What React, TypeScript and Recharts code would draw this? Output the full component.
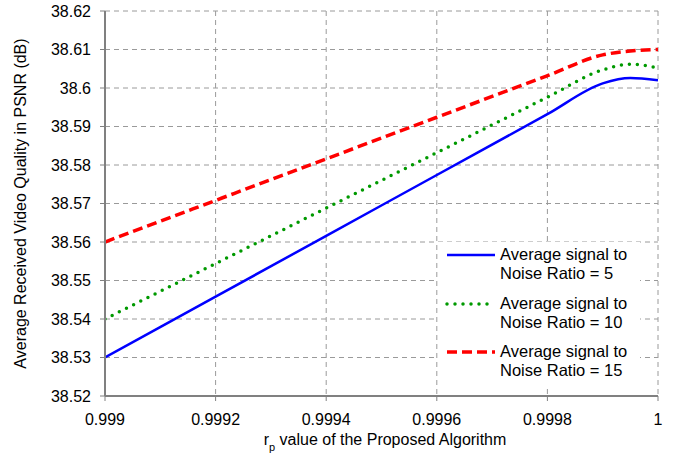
import React from "react";
import { LineChart, Line, XAxis, YAxis, CartesianGrid } from "recharts";

const rpValues = [0.999, 0.9992, 0.9994, 0.9996, 0.9998, 0.9999, 0.99995, 1];
const snr5 = [38.53, 38.5458, 38.5616, 38.5774, 38.5932, 38.6012, 38.6026, 38.602];
const snr10 = [38.54, 38.5544, 38.5688, 38.5832, 38.5976, 38.6047, 38.6062, 38.6052];
const snr15 = [38.56, 38.5708, 38.5816, 38.5924, 38.6032, 38.6086, 38.6096, 38.61];

const xTicks = [0.999, 0.9992, 0.9994, 0.9996, 0.9998, 1];
const xTickLabels = ["0.999", "0.9992", "0.9994", "0.9996", "0.9998", "1"];
const yTicks = [38.52, 38.53, 38.54, 38.55, 38.56, 38.57, 38.58, 38.59, 38.6, 38.61, 38.62];
const yTickLabels = ["38.52", "38.53", "38.54", "38.55", "38.56", "38.57", "38.58", "38.59", "38.6", "38.61", "38.62"];

const seriesNames = [
  ["Average signal to", "Noise Ratio = 5"],
  ["Average signal to", "Noise Ratio = 10"],
  ["Average signal to", "Noise Ratio = 15"],
];

const data = rpValues.map((rp, i) => ({
  rp,
  s5: snr5[i],
  s10: snr10[i],
  s15: snr15[i],
}));

const FONT = "'Liberation Sans', Arial, sans-serif";
const FS = 16;

const styles = [
  { stroke: "#0000ff", dash: undefined, width: 2.5, cap: "butt" },
  { stroke: "#009900", dash: "0 8", width: 3.5, cap: "round" },
  { stroke: "#ff0000", dash: "10 5", width: 3.5, cap: "butt" },
];

// legend drawn as an overlay box inside the plot, like the original
const LegendBox = () => (
  <div
    style={{
      position: "absolute",
      left: 438,
      top: 242,
      width: 202,
      height: 145,
      background: "#fff",
      fontFamily: FONT,
      fontSize: 16.5,
      color: "#000",
    }}
  >
    {styles.map((s, i) => (
      <div key={i} style={{ position: "absolute", left: 0, top: 3 + i * 48.5 }}>
        <svg width={60} height={20} style={{ position: "absolute", left: 0, top: 0 }}>
          <line
            x1={9}
            x2={57}
            y1={10}
            y2={10}
            stroke={s.stroke}
            strokeWidth={s.width}
            strokeDasharray={s.dash}
            strokeLinecap={s.cap as any}
          />
        </svg>
        <div
          style={{
            position: "absolute",
            left: 62,
            top: 0,
            lineHeight: "19px",
            whiteSpace: "nowrap",
          }}
        >
          {seriesNames[i][0]}
          <br />
          {seriesNames[i][1]}
        </div>
      </div>
    ))}
  </div>
);

const XLabel = () => (
  <text x={385} y={445} textAnchor="middle" fontFamily={FONT} fontSize={FS} fill="#000">
    r<tspan baselineShift="sub" fontSize={11}>p</tspan>
    <tspan> value of the Proposed Algorithm</tspan>
  </text>
);

export default function App() {
  return (
    <div style={{ position: "absolute", left: 0, top: 0, width: 673, height: 455, background: "#fff" }}>
      <LineChart
        width={673}
        height={455}
        data={data}
        margin={{ top: 11, right: 15, bottom: 0, left: 0 }}
      >
        <CartesianGrid
          xAxisId="b"
          yAxisId="l"
          stroke="#9a9a9a"
          strokeDasharray="5 4"
        />
        <XAxis
          xAxisId="b"
          dataKey="rp"
          type="number"
          domain={[0.999, 1]}
          ticks={xTicks}
          tickFormatter={(v, i) => xTickLabels[i]}
          height={59}
          axisLine={{ stroke: "#808080", strokeWidth: 2 }}
          tickLine={{ stroke: "#808080" }}
          tickSize={5}
          tick={{ fill: "#000", fontSize: FS, fontFamily: FONT }}
          tickMargin={13}
          allowDataOverflow
        />
        <XAxis
          xAxisId="t"
          orientation="top"
          dataKey="rp"
          type="number"
          domain={[0.999, 1]}
          ticks={xTicks}
          tick={false}
          tickLine={false}
          height={0}
          axisLine={{ stroke: "#222", strokeWidth: 1.5 }}
        />
        <YAxis
          yAxisId="l"
          type="number"
          domain={[38.52, 38.62]}
          ticks={yTicks}
          tickFormatter={(v, i) => yTickLabels[i]}
          width={105}
          axisLine={{ stroke: "#808080", strokeWidth: 2 }}
          tickLine={{ stroke: "#808080" }}
          tickSize={5}
          tick={{ fill: "#000", fontSize: FS, fontFamily: FONT }}
          tickMargin={9}
          label={{
            value: "Average Received Video Quality in PSNR (dB)",
            angle: -90,
            position: "insideLeft",
            offset: 20,
            style: { textAnchor: "middle", fontSize: FS, fontFamily: FONT, fill: "#000" },
          }}
        />
        <YAxis
          yAxisId="r"
          orientation="right"
          type="number"
          domain={[38.52, 38.62]}
          ticks={yTicks}
          tick={false}
          tickLine={false}
          width={0}
          axisLine={{ stroke: "#222", strokeWidth: 1.5 }}
        />
        <Line
          xAxisId="b"
          yAxisId="l"
          type="monotone"
          dataKey="s5"
          stroke={styles[0].stroke}
          strokeWidth={styles[0].width}
          dot={false}
          isAnimationActive={false}
        />
        <Line
          xAxisId="b"
          yAxisId="l"
          type="monotone"
          dataKey="s10"
          stroke={styles[1].stroke}
          strokeWidth={styles[1].width}
          strokeDasharray={styles[1].dash}
          strokeLinecap="round"
          dot={false}
          isAnimationActive={false}
        />
        <Line
          xAxisId="b"
          yAxisId="l"
          type="monotone"
          dataKey="s15"
          stroke={styles[2].stroke}
          strokeWidth={styles[2].width}
          strokeDasharray={styles[2].dash}
          dot={false}
          isAnimationActive={false}
        />
        <XLabel />
      </LineChart>
      <LegendBox />
    </div>
  );
}
